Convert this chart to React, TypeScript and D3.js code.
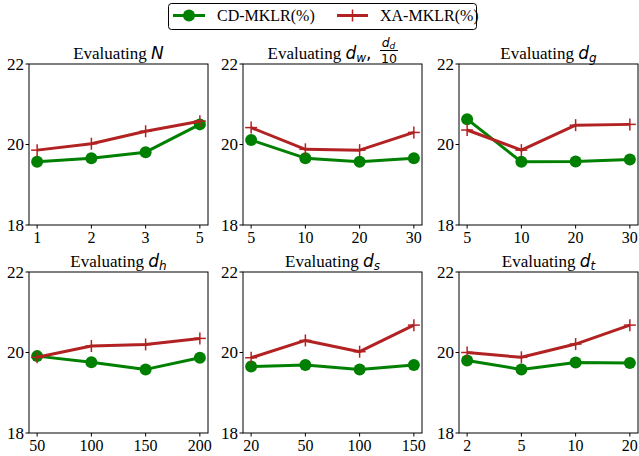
import React from "react";
import * as d3 from "d3";

const panelTitles = ["N", "dw", "dg", "dh", "ds", "dt"];
const xTickLabels: string[][] = [
  ["1", "2", "3", "5"],
  ["5", "10", "20", "30"],
  ["5", "10", "20", "30"],
  ["50", "100", "150", "200"],
  ["20", "50", "100", "150"],
  ["2", "5", "10", "20"],
];
const cdValues: number[][] = [
  [19.57, 19.66, 19.81, 20.5],
  [20.11, 19.66, 19.57, 19.66],
  [20.63, 19.57, 19.58, 19.63],
  [19.91, 19.76, 19.58, 19.87],
  [19.65, 19.69, 19.58, 19.69],
  [19.8, 19.58, 19.75, 19.74],
];
const xaValues: number[][] = [
  [19.86, 20.02, 20.33, 20.58],
  [20.42, 19.88, 19.86, 20.3],
  [20.36, 19.86, 20.48, 20.5],
  [19.88, 20.16, 20.2, 20.35],
  [19.87, 20.3, 20.02, 20.68],
  [20.0, 19.88, 20.21, 20.68],
];
const yTicks = [18, 20, 22];
const seriesNames = ["CD-MKLR(%)", "XA-MKLR(%)"];

const GREEN = "#008000";
const RED = "#b22222";
const SERIF = "Liberation Serif";
const MATH = "DejaVu Sans";

const colX = [29, 243, 459];
const rowY = [64, 272];
const AW = 179;
const AH = 161;

function Title({ kind, cx, y }: { kind: string; cx: number; y: number }) {
  const serifStyle = { fontFamily: SERIF };
  const mathStyle = { fontFamily: MATH, fontStyle: "italic" as const };
  if (kind === "N") {
    return (
      <text x={cx} y={y} textAnchor="middle" fontSize={17} style={serifStyle}>
        Evaluating <tspan style={mathStyle}>N</tspan>
      </text>
    );
  }
  if (kind === "dw") {
    const x0 = cx - 65;
    return (
      <g>
        <text x={x0} y={y} fontSize={17} style={serifStyle}>
          Evaluating <tspan style={mathStyle}>d</tspan>
          <tspan style={mathStyle} fontSize={12} dy={3}>w</tspan>
          <tspan style={{ fontFamily: MATH }} dy={-3}>,</tspan>
        </text>
        <text x={x0 + 121} y={y - 12} textAnchor="middle" fontSize={12.5} style={mathStyle}>
          d<tspan fontSize={9} dy={2}>d</tspan>
        </text>
        <line x1={x0 + 112.5} x2={x0 + 130.5} y1={y - 8.5} y2={y - 8.5} stroke="#000" strokeWidth={1} />
        <text x={x0 + 121.5} y={y + 4} textAnchor="middle" fontSize={12.5} style={{ fontFamily: MATH }}>
          10
        </text>
      </g>
    );
  }
  const sub = kind.slice(1);
  return (
    <text x={cx} y={y} textAnchor="middle" fontSize={17} style={serifStyle}>
      Evaluating <tspan style={mathStyle}>d</tspan>
      <tspan style={mathStyle} fontSize={12} dy={3}>{sub}</tspan>
    </text>
  );
}

function Panel({ idx }: { idx: number }) {
  const r = Math.floor(idx / 3);
  const c = idx % 3;
  const left = colX[c];
  const top = rowY[r];
  const x = d3.scaleLinear().domain([-0.15, 3.15]).range([left, left + AW]);
  const y = d3.scaleLinear().domain([18, 22]).range([top + AH, top]);
  const line = d3
    .line<number>()
    .x((_, i) => x(i))
    .y((v) => y(v));
  const cd = cdValues[idx];
  const xa = xaValues[idx];
  return (
    <g>
      <Title kind={panelTitles[idx]} cx={left + AW / 2} y={top - 5} />
      <path d={line(cd) || ""} fill="none" stroke={GREEN} strokeWidth={3} strokeLinejoin="round" />
      {cd.map((v, i) => (
        <circle key={i} cx={x(i)} cy={y(v)} r={6} fill={GREEN} />
      ))}
      <path d={line(xa) || ""} fill="none" stroke={RED} strokeWidth={3} strokeLinejoin="round" />
      {xa.map((v, i) => (
        <g key={i} stroke={RED} strokeWidth={1.5}>
          <line x1={x(i) - 6} x2={x(i) + 6} y1={y(v)} y2={y(v)} />
          <line x1={x(i)} x2={x(i)} y1={y(v) - 6} y2={y(v) + 6} />
        </g>
      ))}
      <rect x={left} y={top} width={AW} height={AH} fill="none" stroke="#000" strokeWidth={1} />
      {yTicks.map((t) => (
        <g key={t}>
          <line x1={left - 3.5} x2={left} y1={y(t)} y2={y(t)} stroke="#000" strokeWidth={1} />
          <text x={left - 5} y={y(t)} dy="0.35em" textAnchor="end" fontSize={17} style={{ fontFamily: SERIF }}>
            {t}
          </text>
        </g>
      ))}
      {xTickLabels[idx].map((lab, i) => (
        <g key={i}>
          <line x1={x(i)} x2={x(i)} y1={top + AH} y2={top + AH + 3.5} stroke="#000" strokeWidth={1} />
          <text x={x(i)} y={top + AH + 18} textAnchor="middle" fontSize={16} style={{ fontFamily: SERIF }}>
            {lab}
          </text>
        </g>
      ))}
    </g>
  );
}

export default function App() {
  return (
    <svg width={639} height={456} style={{ position: "absolute", left: 0, top: 0, background: "#fff" }}>
      <rect x={0} y={0} width={639} height={456} fill="#fff" />
      {d3.range(6).map((i) => (
        <Panel key={i} idx={i} />
      ))}
      <g>
        <rect x={168.5} y={3.5} width={308} height={26} rx={3} fill="#fff" stroke="#000" strokeWidth={1} />
        <line x1={173} x2={205} y1={15.5} y2={15.5} stroke={GREEN} strokeWidth={3} />
        <circle cx={189} cy={15.5} r={6} fill={GREEN} />
        <text x={217} y={21} fontSize={16} style={{ fontFamily: SERIF }}>
          {seriesNames[0]}
        </text>
        <line x1={337} x2={368} y1={15.5} y2={15.5} stroke={RED} strokeWidth={3} />
        <line x1={346.5} x2={358.5} y1={15.5} y2={15.5} stroke={RED} strokeWidth={1.5} />
        <line x1={352.5} x2={352.5} y1={9.5} y2={21.5} stroke={RED} strokeWidth={1.5} />
        <text x={380} y={21} fontSize={16} style={{ fontFamily: SERIF }}>
          {seriesNames[1]}
        </text>
      </g>
    </svg>
  );
}
